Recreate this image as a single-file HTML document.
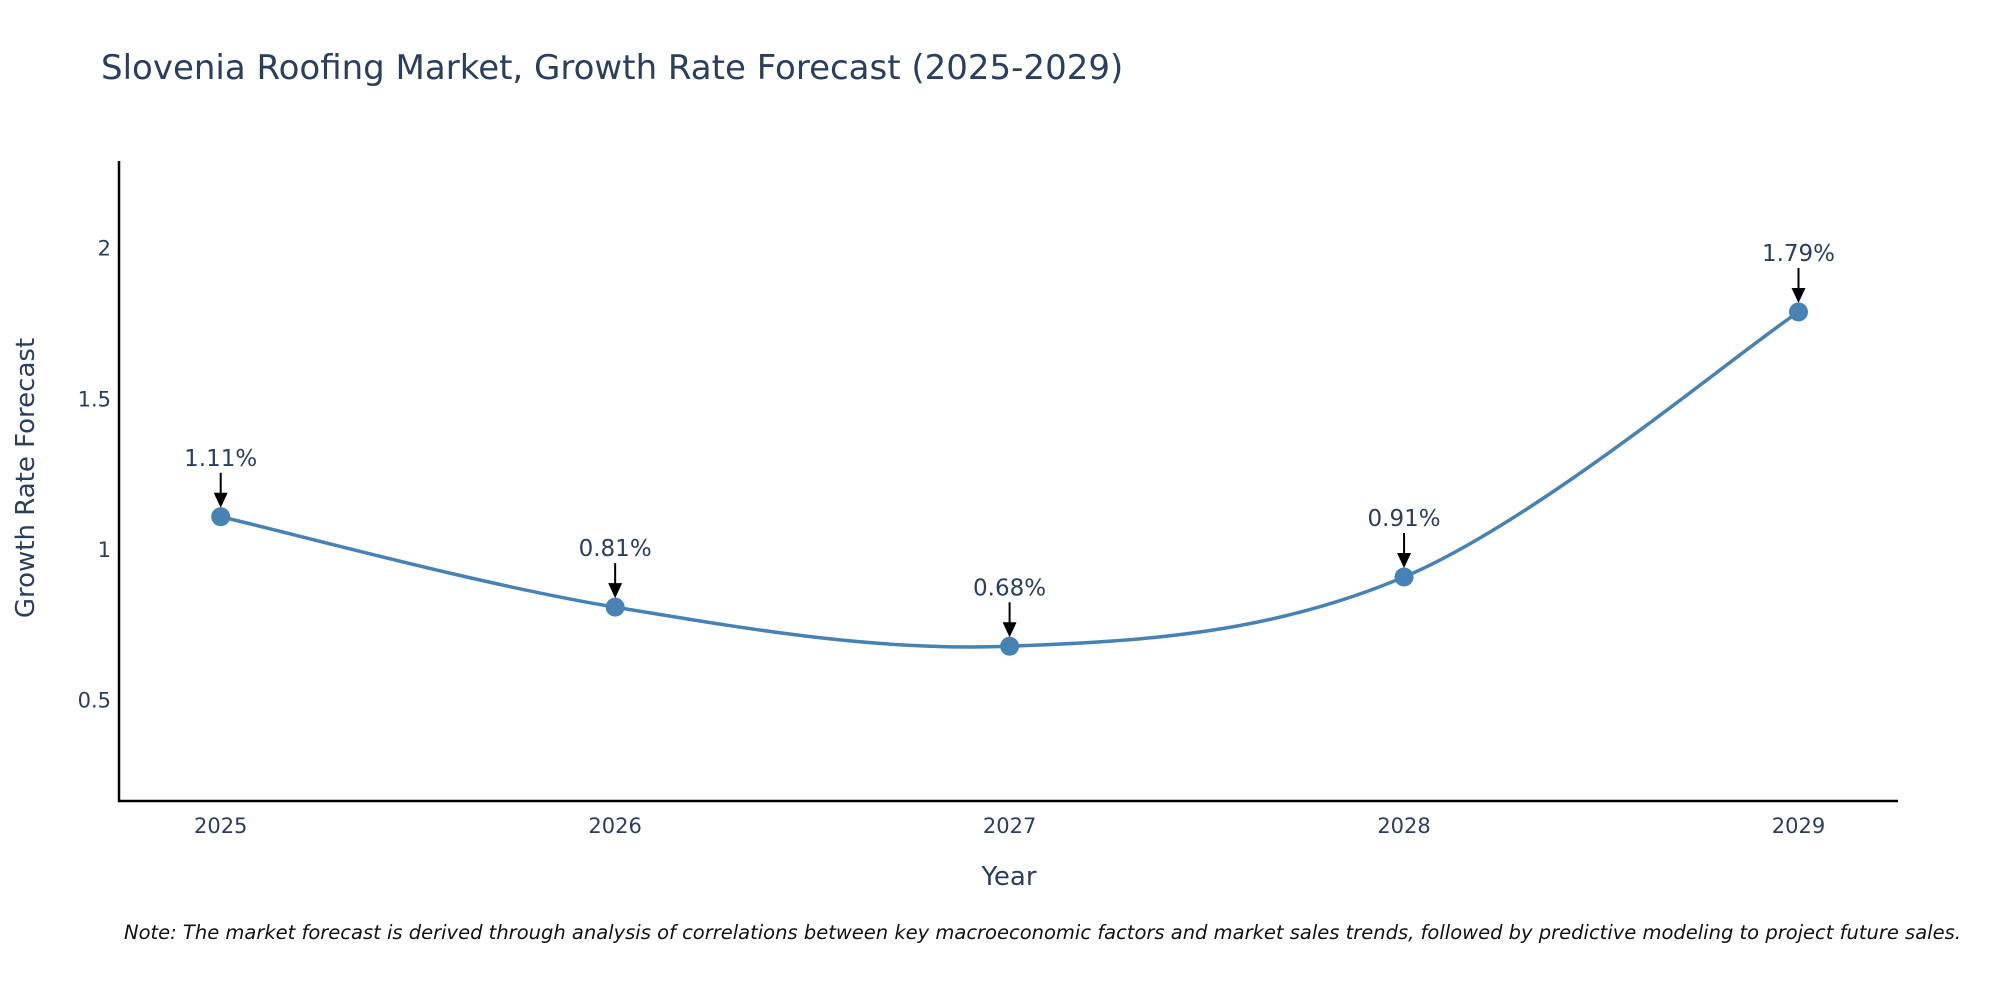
<!DOCTYPE html>
<html><head><meta charset="utf-8"><style>
body{margin:0;background:#fff;font-family:"DejaVu Sans","Liberation Sans",sans-serif}
svg text{font-family:"DejaVu Sans","Liberation Sans",sans-serif}
</style></head><body>
<svg id="chart" width="2000" height="1000" viewBox="0 0 2000 1000" xmlns="http://www.w3.org/2000/svg">
<text x="101" y="79" font-size="34" fill="#2a3f5f">Slovenia Roofing Market, Growth Rate Forecast (2025-2029)</text>
<g id="yticks"></g><g id="xticks"></g>
<line x1="119" y1="161" x2="119" y2="802" stroke="#000" stroke-width="2.5"/>
<line x1="118" y1="801" x2="1898" y2="801" stroke="#000" stroke-width="2.5"/>
<path id="line" fill="none" stroke="#4682b4" stroke-width="3.5"/>
<g id="pts"></g>
<text transform="translate(34,478) rotate(-90)" text-anchor="middle" font-size="26" fill="#2a3f5f">Growth Rate Forecast</text>
<text x="1009" y="885" text-anchor="middle" font-size="26" fill="#2a3f5f">Year</text>
<text x="124" y="939" font-size="19.5" font-style="italic" fill="#111">Note: The market forecast is derived through analysis of correlations between key macroeconomic factors and market sales trends, followed by predictive modeling to project future sales.</text>
</svg>
<script>
const years=[2025,2026,2027,2028,2029];
const values=[1.11,0.81,0.68,0.91,1.79];
const labels=["1.11%","0.81%","0.68%","0.91%","1.79%"];
const yTicks=[0.5,1,1.5,2];
const NS="http://www.w3.org/2000/svg";
const X=v=>220.7+(v-2025)*394.45;
const Y=v=>248.7-(v-2)*301.2;
function mk(t,a,p){const e=document.createElementNS(NS,t);for(const k in a)e.setAttribute(k,a[k]);p.appendChild(e);return e;}
const yt=document.getElementById('yticks');
yTicks.forEach(t=>{const e=mk('text',{x:111,y:Y(t)+7,'text-anchor':'end','font-size':21,fill:'#2a3f5f'},yt);e.textContent=t;

});
const xt=document.getElementById('xticks');
years.forEach(t=>{const e=mk('text',{x:X(t),y:833,'text-anchor':'middle','font-size':21,fill:'#2a3f5f'},xt);e.textContent=t;

});
const P=years.map((y,i)=>[X(y),Y(values[i])]);
let d=`M${P[0][0]},${P[0][1]}`;const s=0.17;
for(let i=0;i<P.length-1;i++){const p0=P[Math.max(0,i-1)],p1=P[i],p2=P[i+1],p3=P[Math.min(P.length-1,i+2)];
d+=` C${p1[0]+(p2[0]-p0[0])*s},${p1[1]+(p2[1]-p0[1])*s} ${p2[0]-(p3[0]-p1[0])*s},${p2[1]-(p3[1]-p1[1])*s} ${p2[0]},${p2[1]}`;}
document.getElementById('line').setAttribute('d',d);
const g=document.getElementById('pts');
P.forEach((p,i)=>{
const c=mk('circle',{cx:p[0],cy:p[1],r:9.5,fill:'#4682b4'},g);


const a=mk('line',{x1:p[0],y1:p[1]-44,x2:p[0],y2:p[1]-22,stroke:'#000','stroke-width':2},g);


const h=mk('polygon',{points:`${p[0]-7},${p[1]-24} ${p[0]+7},${p[1]-24} ${p[0]},${p[1]-9}`,fill:'#000'},g);


const t=mk('text',{x:p[0],y:p[1]-51,'text-anchor':'middle','font-size':23,fill:'#2a3f5f'},g);t.textContent=labels[i];


});
</script>
</body></html>
